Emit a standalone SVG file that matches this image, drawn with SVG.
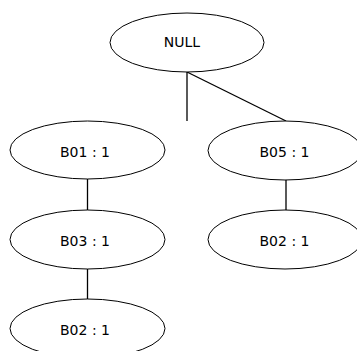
<svg xmlns="http://www.w3.org/2000/svg" width="357" height="351" viewBox="0 0 357 351">
<style>
.n{fill:#fff;stroke:#000;stroke-width:1}
.t{font-family:"DejaVu Sans",Verdana,sans-serif;font-size:14px;fill:#000;text-anchor:middle}
.c{stroke:#000;stroke-width:1.3;fill:none}
</style>
<rect width="357" height="351" fill="#fff"/>
<g id="connectors">
<line class="c" x1="187" y1="72" x2="187" y2="121"/>
<line class="c" x1="187" y1="72" x2="286" y2="121"/>
<line class="c" x1="87.5" y1="179" x2="87.5" y2="210"/>
<line class="c" x1="87.5" y1="269" x2="87.5" y2="299"/>
<line class="c" x1="286" y1="180" x2="286" y2="210"/>
</g>
<g id="null"><ellipse class="n" cx="187" cy="42.5" rx="77" ry="29.5"/><text class="t" x="182" y="47">NULL</text></g>
<g id="b01"><ellipse class="n" cx="87.5" cy="150" rx="77.5" ry="29"/><text class="t" x="85" y="157">B01 : 1</text></g>
<g id="b03"><ellipse class="n" cx="87.5" cy="239.5" rx="77.5" ry="29.5"/><text class="t" x="85" y="246">B03 : 1</text></g>
<g id="b02a"><ellipse class="n" cx="87.5" cy="328.5" rx="77.5" ry="29.5"/><text class="t" x="85" y="335">B02 : 1</text></g>
<g id="b05"><ellipse class="n" cx="285" cy="150.5" rx="77" ry="29.5"/><text class="t" x="284.5" y="157">B05 : 1</text></g>
<g id="b02b"><ellipse class="n" cx="285" cy="239.5" rx="77" ry="29.5"/><text class="t" x="284.5" y="246">B02 : 1</text></g>
</svg>
